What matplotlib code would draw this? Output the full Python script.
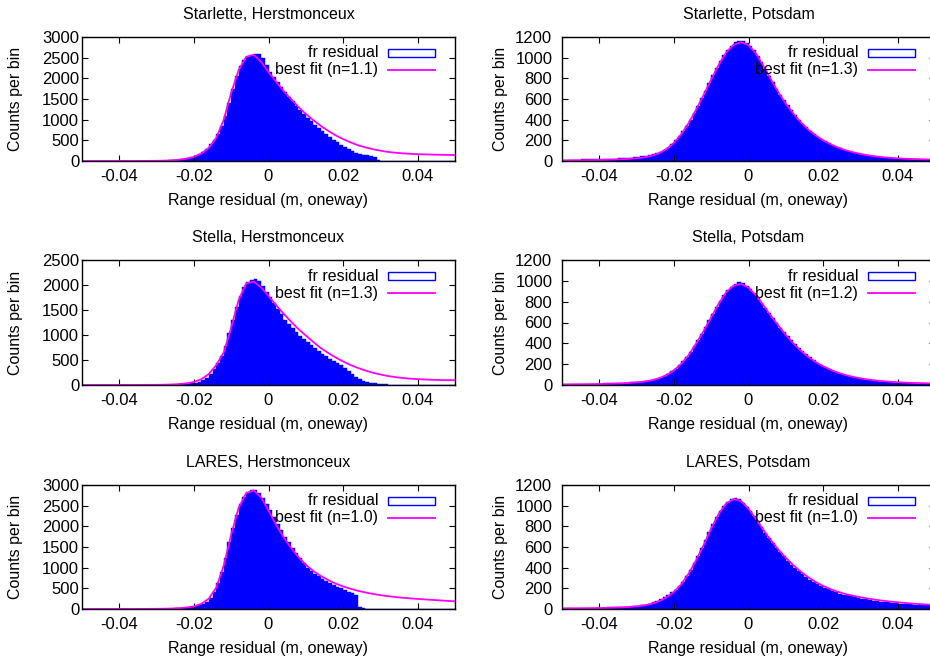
import numpy as np
import matplotlib
matplotlib.use('Agg')
import matplotlib.pyplot as plt
from matplotlib.patches import Rectangle

plt.rcParams['font.family'] = ['Liberation Sans', 'DejaVu Sans']
plt.rcParams['font.size'] = 11.5

# panel titles / fit exponent
titles = ['Starlette, Herstmonceux', 'Starlette, Potsdam',
          'Stella, Herstmonceux', 'Stella, Potsdam',
          'LARES, Herstmonceux', 'LARES, Potsdam']
fit_n = ['1.1', '1.3', '1.3', '1.2', '1.0', '1.0']
y_max = [3000, 1200, 2500, 1200, 3000, 1200]
y_step = [500, 200, 500, 200, 500, 200]
x_ticks = [-0.04, -0.02, 0, 0.02, 0.04]
x_tick_labels = ['-0.04', '-0.02', '0', '0.02', '0.04']

# histogram bins: lower edges -0.050 ... 0.049, width 0.001
bin_w = 0.001
bin_lo = np.round(np.arange(-0.05, 0.05, bin_w), 4)
# fit curve sampled every 0.002 from -0.050 to 0.050
fit_x = np.round(np.arange(-0.05, 0.0501, 0.002), 4)

hist_sh = [1, 1, 1, 1, 1, 1, 1, 1, 1, 1,
           1, 1, 1, 2, 2, 2, 2, 3, 3, 4,
           5, 8, 10, 15, 20, 30, 40, 50, 70, 90,
           120, 160, 220, 300, 400, 520, 660, 850, 1100, 1400,
           1750, 2050, 2300, 2450, 2520, 2550, 2600, 2580, 2480, 2330,
           2150, 2030, 1910, 1800, 1680, 1560, 1450, 1340, 1240, 1140,
           1050, 960, 880, 800, 720, 650, 580, 510, 450, 390,
           335, 280, 235, 200, 170, 150, 135, 120, 105, 25,
           10, 8, 0, 0, 0, 0, 0, 0, 0, 0,
           0, 0, 0, 0, 0, 0, 0, 0, 0, 0]
fit_sh = [0, 0, 0, 0, 0, 0, 1, 1, 2, 3,
          5, 8, 15, 30, 55, 100, 180, 320, 560, 1000,
          1650, 2200, 2520, 2570, 2400, 2150, 1920, 1700, 1500, 1310,
          1140, 990, 850, 730, 620, 530, 450, 380, 330, 285,
          250, 220, 200, 185, 175, 165, 160, 155, 150, 147,
          145]

hist_sp = [12, 12, 13, 13, 14, 15, 15, 16, 17, 18,
           19, 20, 21, 22, 24, 26, 28, 30, 33, 36,
           40, 45, 50, 56, 64, 74, 88, 105, 130, 160,
           200, 240, 290, 340, 400, 465, 535, 605, 678, 752,
           830, 900, 965, 1025, 1075, 1115, 1150, 1165, 1160, 1140,
           1110, 1070, 1020, 960, 890, 825, 760, 700, 640, 590,
           540, 490, 445, 400, 360, 325, 292, 262, 236, 212,
           190, 170, 152, 136, 121, 108, 96, 86, 77, 69,
           62, 55, 49, 44, 40, 36, 32, 29, 26, 24,
           22, 20, 18, 17, 16, 15, 14, 13, 12, 12]
fit_sp = [5, 6, 7, 8, 9, 10, 12, 14, 17, 21,
          27, 36, 50, 75, 115, 175, 260, 370, 500, 640,
          790, 930, 1050, 1125, 1150, 1120, 1040, 920, 790, 665,
          555, 460, 375, 305, 248, 200, 162, 130, 105, 85,
          69, 55, 45, 37, 31, 26, 22, 19, 17, 15,
          14]

hist_th = [1, 1, 1, 1, 1, 1, 1, 1, 1, 1,
           1, 1, 1, 1, 1, 2, 2, 2, 2, 2,
           3, 4, 5, 6, 8, 10, 14, 20, 28, 38,
           50, 70, 100, 150, 220, 320, 440, 590, 790, 1050,
           1300, 1560, 1790, 1960, 2060, 2100, 2120, 2080, 1990, 1870,
           1760, 1640, 1530, 1420, 1310, 1230, 1140, 1060, 990, 920,
           860, 800, 740, 680, 625, 575, 530, 485, 440, 395,
           340, 290, 230, 170, 115, 80, 60, 45, 35, 28,
           20, 15, 10, 6, 3, 0, 0, 0, 0, 0,
           0, 0, 0, 0, 0, 0, 0, 0, 0, 0]
fit_th = [0, 0, 0, 0, 0, 0, 1, 1, 2, 3,
          4, 6, 10, 18, 32, 60, 115, 220, 400, 650,
          1150, 1700, 2030, 2070, 1950, 1780, 1600, 1430, 1270, 1120,
          990, 860, 740, 640, 550, 470, 400, 340, 290, 245,
          210, 180, 158, 140, 127, 117, 110, 104, 100, 97,
          95]

hist_tp = [8, 8, 9, 9, 10, 10, 11, 12, 12, 13,
           14, 15, 16, 17, 18, 19, 21, 23, 25, 27,
           30, 33, 37, 42, 48, 56, 68, 85, 105, 130,
           158, 190, 228, 270, 320, 375, 432, 492, 555, 620,
           685, 750, 810, 865, 910, 945, 970, 985, 975, 955,
           920, 882, 838, 790, 742, 692, 643, 596, 550, 505,
           475, 435, 395, 360, 325, 295, 265, 240, 215, 192,
           172, 154, 138, 124, 110, 98, 88, 79, 71, 64,
           57, 51, 46, 41, 37, 33, 30, 27, 25, 23,
           21, 19, 17, 16, 15, 14, 13, 12, 11, 10]
fit_tp = [4, 5, 6, 7, 8, 9, 11, 13, 16, 20,
          25, 33, 45, 65, 95, 140, 205, 290, 400, 520,
          650, 780, 890, 955, 970, 935, 860, 765, 665, 570,
          480, 400, 330, 270, 220, 180, 146, 118, 96, 78,
          64, 53, 44, 37, 31, 27, 23, 20, 18, 16,
          14]

hist_lh = [1, 1, 1, 1, 1, 1, 1, 1, 1, 1,
           1, 1, 1, 1, 2, 2, 2, 2, 3, 3,
           4, 5, 6, 8, 10, 13, 17, 22, 30, 45,
           80, 100, 125, 170, 260, 420, 620, 900, 1240, 1620,
           1950, 2280, 2540, 2720, 2830, 2870, 2870, 2800, 2680, 2530,
           2400, 2230, 2060, 1900, 1750, 1610, 1480, 1350, 1230, 1110,
           1000, 920, 850, 790, 730, 680, 630, 580, 540, 500,
           460, 420, 380, 340, 60, 20, 5, 0, 0, 0,
           0, 0, 0, 0, 0, 0, 0, 0, 0, 0,
           0, 0, 0, 0, 0, 0, 0, 0, 0, 0]
fit_lh = [0, 0, 0, 0, 0, 0, 1, 1, 2, 3,
          5, 7, 12, 20, 35, 65, 125, 250, 520, 1050,
          1800, 2450, 2800, 2870, 2700, 2380, 2040, 1740, 1480, 1260,
          1070, 920, 800, 700, 615, 545, 490, 440, 400, 365,
          335, 310, 290, 272, 257, 244, 232, 220, 208, 196,
          185]

hist_lp = [8, 8, 9, 9, 10, 10, 11, 11, 12, 12,
           13, 14, 15, 16, 17, 18, 19, 21, 23, 25,
           30, 35, 42, 52, 64, 78, 95, 115, 135, 160,
           185, 220, 265, 320, 380, 445, 515, 590, 665, 745,
           820, 890, 950, 1000, 1035, 1060, 1075, 1060, 1030, 990,
           950, 900, 845, 790, 740, 690, 640, 595, 550, 510,
           465, 430, 398, 366, 337, 310, 285, 262, 242, 222,
           205, 189, 175, 162, 150, 140, 131, 122, 114, 107,
           100, 94, 88, 82, 77, 72, 68, 64, 60, 56,
           53, 50, 47, 44, 42, 40, 38, 36, 34, 33]
fit_lp = [5, 6, 6, 7, 8, 9, 11, 13, 16, 20,
          26, 35, 50, 75, 112, 165, 240, 345, 475, 620,
          780, 920, 1020, 1065, 1045, 970, 870, 765, 665, 575,
          495, 425, 362, 308, 262, 224, 192, 166, 145, 128,
          114, 101, 90, 80, 72, 65, 58, 52, 47, 43,
          39]

hists = [hist_sh, hist_sp, hist_th, hist_tp, hist_lh, hist_lp]
fits = [fit_sh, fit_sp, fit_th, fit_tp, fit_lh, fit_lp]

W, H = 930, 666
fig = plt.figure(figsize=(W / 100, H / 100), dpi=100)

col_left = [82, 562]
row_px = [(37, 161), (260, 385), (485, 609)]
ax_w = 373

for i in range(6):
    r, c = divmod(i, 2)
    top, bot = row_px[r]
    ax = fig.add_axes([col_left[c] / W, 1 - bot / H, ax_w / W, (bot - top) / H])

    ax.bar(bin_lo + bin_w / 2, hists[i], width=bin_w, color='#0000ff',
           edgecolor='#0000ff', linewidth=0.3)
    ax.plot(fit_x, fits[i], color='#ff00ff', lw=1.3)

    ax.set_xticks(x_ticks)
    ax.set_xticklabels(x_tick_labels)
    ax.set_yticks(np.arange(0, y_max[i] + 1, y_step[i]))
    ax.tick_params(direction='in', top=True, right=True, length=4,
                   width=0.8, labelsize=12)
    ax.tick_params(axis='x', pad=6)
    ax.tick_params(axis='y', pad=2 if c == 0 else 7)
    for s in ax.spines.values():
        s.set_linewidth(1.0)

    ax.set_title(titles[i], fontsize=11.5, pad=13)
    ax.set_xlabel('Range residual (m, oneway)', fontsize=11.5)
    ax.xaxis.set_label_coords(0.5, -0.26)
    ax.set_ylabel('Counts per bin', fontsize=11.5)
    ax.yaxis.set_label_coords(-0.158 if c == 0 else -0.145, 0.5)

    # gnuplot style key: text then sample
    ax.text(0.794, 0.871, 'fr residual', transform=ax.transAxes,
            ha='right', va='center', fontsize=11.5, zorder=6)
    ax.add_patch(Rectangle((0.820, 0.871 - 0.032), 0.126, 0.064,
                           transform=ax.transAxes, facecolor='white',
                           edgecolor='#0000ff', lw=1, zorder=6))
    ax.text(0.794, 0.734, 'best fit (n=%s)' % fit_n[i], transform=ax.transAxes,
            ha='right', va='center', fontsize=11.5, zorder=6)
    ax.plot([0.820, 0.946], [0.734, 0.734], transform=ax.transAxes,
            color='#ff00ff', lw=1.3, zorder=6)
    ax.set_xlim(-0.05, 0.05)
    ax.set_ylim(0, y_max[i])

fig.savefig('out.png', dpi=100)
